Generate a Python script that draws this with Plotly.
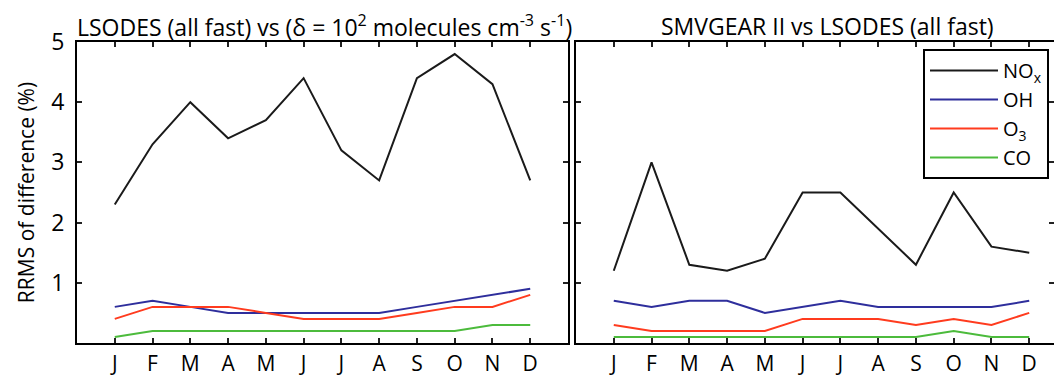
import plotly.graph_objects as go

months = ["J", "F", "M", "A", "M", "J", "J", "A", "S", "O", "N", "D"]
month_pos = list(range(1, 13))

# Left panel: LSODES (all fast) vs (delta = 1e2)
left_nox = [2.3, 3.3, 4.0, 3.4, 3.7, 4.4, 3.2, 2.7, 4.4, 4.8, 4.3, 2.7]
left_oh = [0.6, 0.7, 0.6, 0.5, 0.5, 0.5, 0.5, 0.5, 0.6, 0.7, 0.8, 0.9]
left_o3 = [0.4, 0.6, 0.6, 0.6, 0.5, 0.4, 0.4, 0.4, 0.5, 0.6, 0.6, 0.8]
left_co = [0.1, 0.2, 0.2, 0.2, 0.2, 0.2, 0.2, 0.2, 0.2, 0.2, 0.3, 0.3]

# Right panel: SMVGEAR II vs LSODES (all fast)
right_nox = [1.2, 3.0, 1.3, 1.2, 1.4, 2.5, 2.5, 1.9, 1.3, 2.5, 1.6, 1.5]
right_oh = [0.7, 0.6, 0.7, 0.7, 0.5, 0.6, 0.7, 0.6, 0.6, 0.6, 0.6, 0.7]
right_o3 = [0.3, 0.2, 0.2, 0.2, 0.2, 0.4, 0.4, 0.4, 0.3, 0.4, 0.3, 0.5]
right_co = [0.1, 0.1, 0.1, 0.1, 0.1, 0.1, 0.1, 0.1, 0.1, 0.2, 0.1, 0.1]

y_ticks = [1, 2, 3, 4, 5]

species = ["NO<sub>x</sub>", "OH", "O<sub>3</sub>", "CO"]
colors = ["#1a1a1a", "#2e2e9c", "#ff3b1e", "#4cbb3c"]

FONT = "Open Sans"
W, H = 1054, 376
ML, MR, MT, MB = 77, 0, 42, 33
PW, PH = W - ML - MR, H - MT - MB


def px(x):
    return (x - ML) / PW


def py(y):
    return (H - MB - y) / PH


fig = go.Figure()
left_sets = [left_nox, left_oh, left_o3, left_co]
right_sets = [right_nox, right_oh, right_o3, right_co]
for name, col, ys in zip(species, colors, left_sets):
    fig.add_trace(go.Scatter(x=month_pos, y=ys, mode="lines", name=name,
                             line=dict(color=col, width=2), showlegend=False,
                             xaxis="x", yaxis="y"))
for name, col, ys in zip(species, colors, right_sets):
    fig.add_trace(go.Scatter(x=month_pos, y=ys, mode="lines", name=name,
                             line=dict(color=col, width=2), showlegend=True,
                             xaxis="x2", yaxis="y2"))

spacing = (568 - 77) / 13.0
ax_common = dict(showgrid=False, zeroline=False, showline=True, linecolor="black",
                 linewidth=2, ticks="inside", ticklen=5, tickwidth=1.5,
                 tickcolor="#222", mirror="ticks", automargin=False)

fig.update_layout(
    width=W, height=H,
    margin=dict(l=ML, r=MR, t=MT, b=MB, pad=0),
    paper_bgcolor="white", plot_bgcolor="white",
    font=dict(family=FONT, color="black", size=22),
    xaxis=dict(domain=[0, px(568)], range=[0, 13], tickvals=month_pos, anchor="y",
               ticktext=months, tickfont=dict(size=21), ticklabelstandoff=1, **ax_common),
    yaxis=dict(domain=[0, 1], range=[0, 5], tickvals=y_ticks, anchor="x",
               tickfont=dict(size=23), ticklabelstandoff=6,
               title=dict(text="RRMS of difference (%)", font=dict(size=21), standoff=11),
               **ax_common),
    xaxis2=dict(domain=[px(576), 1], range=[0, (W - 576) / spacing], tickvals=month_pos,
                ticktext=months, tickfont=dict(size=21), ticklabelstandoff=1,
                anchor="y2", **ax_common),
    yaxis2=dict(domain=[0, 1], range=[0, 5], tickvals=y_ticks,
                showticklabels=False, anchor="x2", **ax_common),
    legend=dict(x=px(923), y=py(49), xanchor="left", yanchor="top",
                bordercolor="black", borderwidth=2, bgcolor="white",
                font=dict(size=20, family=FONT), itemwidth=68,
                tracegroupgap=0),
    annotations=[
        dict(text="LSODES (all fast) vs (δ = 10<sup>2</sup> molecules cm<sup>-3</sup> s<sup>-1</sup>)",
             x=px(324), y=py(26), xref="paper", yref="paper",
             xanchor="center", yanchor="middle", showarrow=False, font=dict(size=23)),
        dict(text="SMVGEAR II vs LSODES (all fast)",
             x=px(827), y=py(26), xref="paper", yref="paper",
             xanchor="center", yanchor="middle", showarrow=False, font=dict(size=23)),
    ],
)

fig.write_html("out.html", config={"displayModeBar": False},
               post_script="document.body.style.margin='0';")
